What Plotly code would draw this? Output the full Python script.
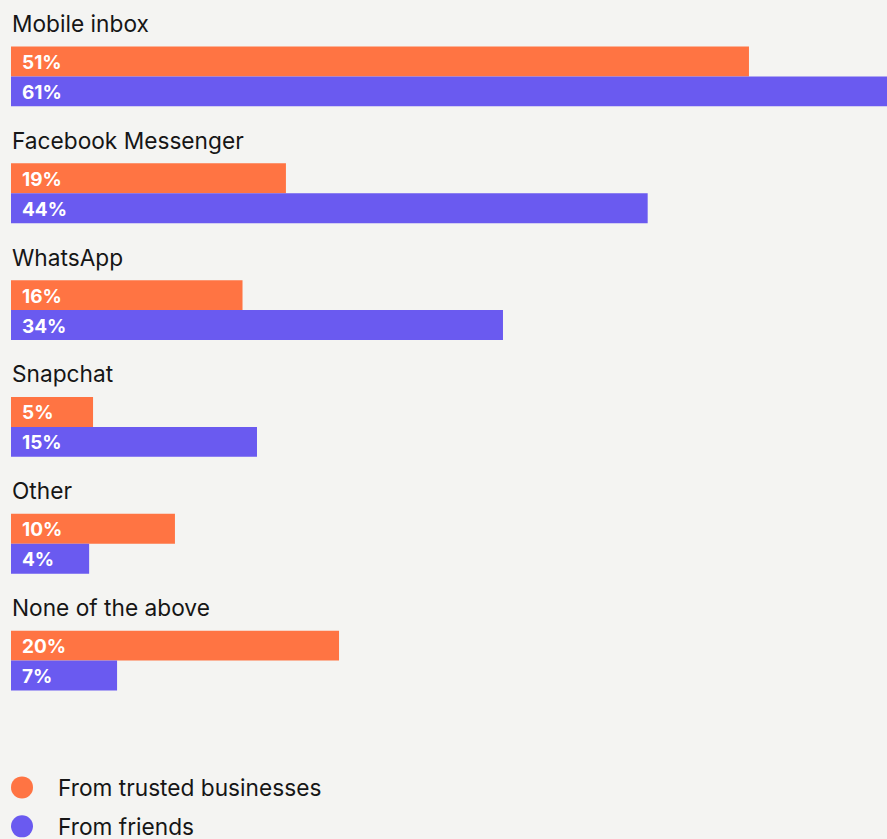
import plotly.graph_objects as go

categories = ["Mobile inbox", "Facebook Messenger", "WhatsApp", "Snapchat", "Other", "None of the above"]
# value labels as printed on the bars
businesses_labels = [51, 19, 16, 5, 10, 20]
friends_labels = [61, 44, 34, 15, 4, 7]
# bar lengths as drawn in the reference (in %)
businesses_bars = [51, 19, 16, 5.67, 11.33, 22.67]
friends_bars = [61, 44, 34, 17.0, 5.4, 7.33]
series_names = ["From trusted businesses", "From friends"]

ORANGE = "#FF7443"
PURPLE = "#6A5AF0"
BG = "#F4F4F2"
TEXT = "#161616"
FONT = "Inter"

W, H = 887, 839
PLOT_TOP, PLOT_BOTTOM = 17.5, 719.5
PLOT_LEFT = 11

fig = go.Figure()
for name, vals, col in [(series_names[0], businesses_bars, ORANGE), (series_names[1], friends_bars, PURPLE)]:
    fig.add_trace(go.Bar(
        y=categories, x=vals, orientation="h", name=name,
        marker=dict(color=col, line=dict(width=0)),
        showlegend=False, hoverinfo="skip",
    ))

annotations = []
for cat, b, f in zip(categories, businesses_labels, friends_labels):
    annotations.append(dict(x=0, y=cat, xref="x", yref="y", text=cat, showarrow=False,
                            xanchor="left", yanchor="middle", xshift=-1, yshift=53,
                            font=dict(family=FONT, size=22.7, color=TEXT)))
    for v, ys in [(b, 14), (f, -16)]:
        annotations.append(dict(x=0, y=cat, xref="x", yref="y", text=f"<b>{v}%</b>", showarrow=False,
                                xanchor="left", yanchor="middle", xshift=9, yshift=ys,
                                font=dict(family=FONT, size=19, color="white")))

plot_h = PLOT_BOTTOM - PLOT_TOP
plot_w = W - PLOT_LEFT
shapes = []
for i, (name, col) in enumerate(zip(series_names, [ORANGE, PURPLE])):
    cy = 788 + 39 * i
    py = (PLOT_BOTTOM - cy) / plot_h
    px = (22 - PLOT_LEFT) / plot_w
    shapes.append(dict(type="circle", xref="paper", yref="paper", xsizemode="pixel", ysizemode="pixel",
                       xanchor=px, yanchor=py, x0=-11, x1=11, y0=-11, y1=11,
                       fillcolor=col, line=dict(width=0)))
    annotations.append(dict(x=(58 - PLOT_LEFT) / plot_w, y=py, xref="paper", yref="paper", text=name,
                            showarrow=False, xanchor="left", yanchor="middle", xshift=-2,
                            font=dict(family=FONT, size=22.7, color=TEXT)))

fig.update_layout(
    width=W, height=H,
    margin=dict(l=PLOT_LEFT, r=0, t=PLOT_TOP, b=H - PLOT_BOTTOM, pad=0),
    paper_bgcolor=BG, plot_bgcolor=BG,
    barmode="group", bargap=57 / 117, bargroupgap=0,
    xaxis=dict(range=[0, plot_w / 14.47], visible=False, fixedrange=True),
    yaxis=dict(range=[5.5, -0.5], visible=False, fixedrange=True, type="category"),
    annotations=annotations, shapes=shapes,
    showlegend=False,
)

fig.write_html("out.html")
